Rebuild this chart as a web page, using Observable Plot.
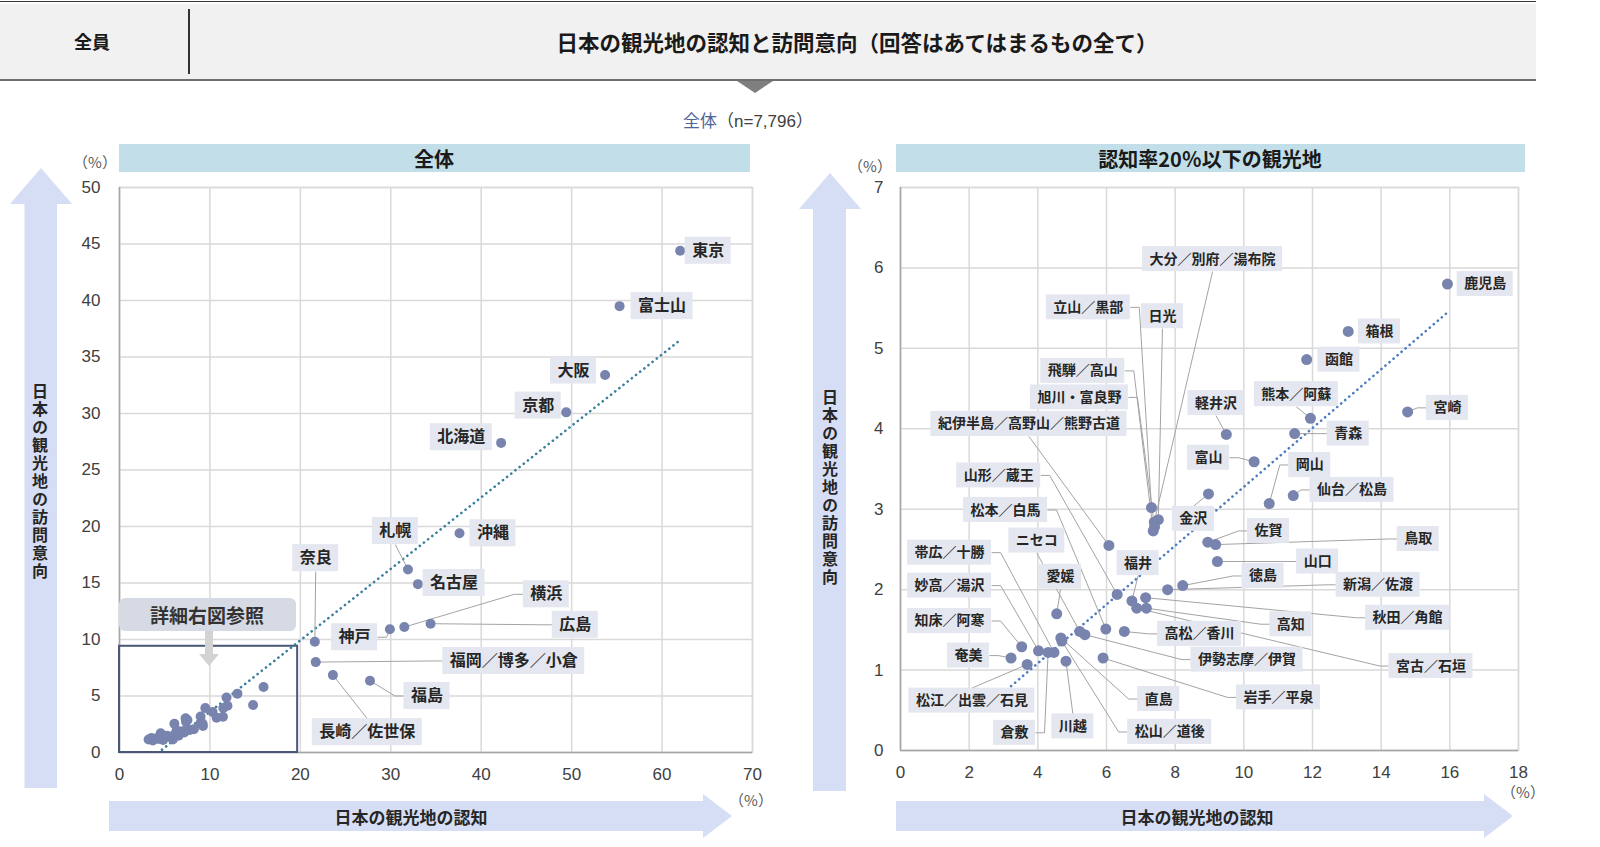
<!DOCTYPE html>
<html><head><meta charset="utf-8">
<script src="https://cdn.jsdelivr.net/npm/d3@7"></script>
<script src="https://cdn.jsdelivr.net/npm/@observablehq/plot@0.6"></script>
<style>
body{margin:0;background:#fff;width:1600px;height:847px;overflow:hidden;position:relative;font-family:"Noto Sans CJK JP",sans-serif;color:#262626;}
.abs{position:absolute;}
.c{position:absolute;transform:translate(-50%,-50%);white-space:nowrap;}
.plotwrap svg{position:absolute;}
</style></head><body>
<script>
// ---------- DATA ----------
const majorNames = ["東京","富士山","大阪","京都","北海道","沖縄","札幌","名古屋","横浜","広島","神戸","奈良","福岡／博多／小倉","長崎／佐世保","福島"];
const majorAware = [62.0,55.3,53.7,49.4,42.2,37.6,31.9,33.0,31.5,34.4,29.9,21.6,21.7,23.6,27.7];
const majorIntent = [44.4,39.5,33.4,30.1,27.4,19.4,16.2,14.9,11.1,11.4,10.9,9.8,8.0,6.85,6.35];

const minorNames = ["鹿児島","箱根","函館","宮崎","熊本／阿蘇","青森","軽井沢","富山","岡山","仙台／松島","金沢","佐賀","鳥取","山口","徳島","新潟／佐渡","立山／黒部","日光","大分／別府／湯布院","飛騨／高山","旭川・富良野","紀伊半島／高野山／熊野古道","山形／蔵王","福井","秋田／角館","宮古／石垣","高知","高松／香川","松本／白馬","岩手／平泉","伊勢志摩／伊賀","ニセコ","愛媛","直島","松山／道後","川越","倉敷","帯広／十勝","妙高／湯沢","知床／阿寒","奄美","松江／出雲／石見"];
const minorAware = [15.93,13.04,11.83,14.77,11.94,11.48,9.49,10.30,10.74,11.44,8.97,8.95,9.18,9.23,8.22,7.78,7.31,7.51,7.39,7.36,7.40,6.07,6.31,6.74,7.14,6.88,7.16,6.52,5.98,5.90,5.37,5.22,4.55,4.67,4.70,4.82,4.30,4.47,4.02,3.53,3.22,3.69];
const minorIntent = [5.80,5.21,4.86,4.21,4.13,3.94,3.93,3.59,3.07,3.17,3.19,2.59,2.56,2.35,2.05,2.00,3.02,2.87,2.84,2.73,2.78,2.55,1.94,1.86,1.90,1.77,1.77,1.48,1.51,1.15,1.44,1.48,1.70,1.40,1.36,1.11,1.22,1.22,1.24,1.29,1.15,1.07];

// dotted reference lines (end points)
const leftTrendX = [4.7, 62.0];
const leftTrendY = [0.25, 36.5];
const rightTrendX = [3.22, 15.97];
const rightTrendY = [0.80, 5.46];

// tick labels
const leftXTicks = [0,10,20,30,40,50,60,70];
const leftYTicks = [0,5,10,15,20,25,30,35,40,45,50];
const rightXTicks = [0,2,4,6,8,10,12,14,16,18];
const rightYTicks = [0,1,2,3,4,5,6,7];

// ---------- LABEL LAYOUT (data coordinates) ----------
const majorLabelX = [65.1,60.0,50.2,46.3,37.8,41.3,30.5,37.0,47.2,50.4,26.0,21.7,43.6,27.4,34.0];
const majorLabelY = [44.4,39.5,33.8,30.7,27.9,19.4,19.6,15.0,14.0,11.3,10.2,17.2,8.1,1.8,5.0];
const majorLeader = ["","","","","","","b","","l","l","r","b","l","t","l"];

const minorLabelX = [17.03,13.95,12.77,15.93,11.53,13.04,9.19,8.97,11.92,13.15,8.53,10.72,15.08,12.15,10.56,13.91,5.47,7.63,9.09,5.31,5.21,3.74,2.86,6.92,14.77,15.45,11.37,8.71,3.06,11.01,10.09,3.97,4.66,7.52,7.84,5.02,3.32,1.43,1.43,1.43,1.98,2.08];
const minorLabelY = [5.80,5.21,4.86,4.26,4.43,3.94,4.32,3.64,3.55,3.24,2.88,2.73,2.63,2.35,2.17,2.06,5.51,5.40,6.11,4.72,4.39,4.06,3.42,2.33,1.65,1.05,1.57,1.45,2.99,0.66,1.13,2.61,2.16,0.64,0.23,0.30,0.22,2.46,2.05,1.61,1.18,0.62];
const minorLeader = ["","","","l","b","l","b","r","l","l","t","l","l","l","l","l","r","b","b","r","r","b","r","b","l","l","l","l","r","l","l","b","b","l","l","t","r","r","r","r","r","t"];

// ---------- BUILD ----------
const majorPts = majorNames.map((n,i)=>({name:n,x:majorAware[i],y:majorIntent[i]}));
const minorPts = minorNames.map((n,i)=>({name:n,x:minorAware[i],y:minorIntent[i]}));
const majorLabels = majorPts.map((p,i)=>({...p,lx:majorLabelX[i],ly:majorLabelY[i],a:majorLeader[i]}));
const minorLabels = minorPts.map((p,i)=>({...p,lx:minorLabelX[i],ly:minorLabelY[i],a:minorLeader[i]}));

const DOT = "#7884ae";
const BOX = "#e4e7ef";
const TICKFONT = "'Liberation Sans', Arial, sans-serif";
const JP = "'Noto Sans CJK JP', sans-serif";

function makeChart(cfg){
  const {W,H,ml,mr,mt,mb,xDomain,yDomain,xTicks,yTicks,pts,labels,trendX,trendY,trendColor,fontPx,boxH,pad,dotR,extra,ytp,xtp} = cfg;
  const sx = Plot.scale({x:{domain:xDomain, range:[ml, W-mr]}});
  const sy = Plot.scale({y:{domain:yDomain, range:[H-mb, mt]}});
  const ctx = document.createElement("canvas").getContext("2d");
  ctx.font = `bold ${fontPx}px "Noto Sans CJK JP"`;
  const boxes = [], links = [];
  const stub = 9;
  for (const L of labels){
    const cx = sx.apply(L.lx), cy = sy.apply(L.ly);
    const w = ctx.measureText(L.name).width + 2*pad;
    boxes.push({x1:sx.invert(cx-w/2), x2:sx.invert(cx+w/2), y1:sy.invert(cy+boxH/2), y2:sy.invert(cy-boxH/2)});
    const px = sx.apply(L.x), py = sy.apply(L.y);
    let path = null;
    if (L.a==="l") path = [[cx-w/2,cy],[cx-w/2-stub,cy],[px,py]];
    else if (L.a==="r") path = [[cx+w/2,cy],[cx+w/2+stub,cy],[px,py]];
    else if (L.a==="t") path = [[cx,cy-boxH/2],[px,py]];
    else if (L.a==="b") path = [[cx,cy+boxH/2],[px,py]];
    if (path) for (let k=0;k<path.length-1;k++){
      links.push({x1:sx.invert(path[k][0]),y1:sy.invert(path[k][1]),x2:sx.invert(path[k+1][0]),y2:sy.invert(path[k+1][1])});
    }
  }
  const trend = trendX.map((x,i)=>({x,y:trendY[i]}));
  const fmt = d => String(d);
  return Plot.plot({
    width:W, height:H, marginLeft:ml, marginRight:mr, marginTop:mt, marginBottom:mb,
    x:{domain:xDomain}, y:{domain:yDomain},
    style:{background:"transparent", fontSize:"17px", fontFamily:TICKFONT, color:"#404040", overflow:"visible"},
    marks:[
      Plot.gridX(xTicks,{stroke:"#d9d9d9",strokeOpacity:1,strokeWidth:1.5}),
      Plot.gridY(yTicks,{stroke:"#d9d9d9",strokeOpacity:1,strokeWidth:1.5}),
      Plot.frame({stroke:"#d9d9d9",strokeWidth:1.5}),
      Plot.ruleX([xDomain[0]],{stroke:"#a6a6a6",strokeWidth:1.5}),
      Plot.ruleY([yDomain[0]],{stroke:"#a6a6a6",strokeWidth:1.5}),
      Plot.axisX(xTicks,{tickSize:0,tickPadding:xtp,tickFormat:fmt,fontSize:17,fontFamily:TICKFONT,fill:"#404040"}),
      Plot.axisY(yTicks,{tickSize:0,tickPadding:ytp,tickFormat:fmt,fontSize:17,fontFamily:TICKFONT,fill:"#404040"}),
      ...(extra||[]),
      Plot.line(trend,{x:"x",y:"y",stroke:trendColor,strokeWidth:2.6,strokeDasharray:"0.1 5.2",strokeLinecap:"round"}),
      Plot.link(links,{x1:"x1",y1:"y1",x2:"x2",y2:"y2",stroke:"#a3a3a3",strokeWidth:1}),
      Plot.dot(pts,{x:"x",y:"y",r:dotR,fill:DOT,stroke:"none"}),
      Plot.rect(boxes,{x1:"x1",x2:"x2",y1:"y1",y2:"y2",fill:BOX}),
      Plot.text(labels,{x:"lx",y:"ly",text:"name",fontSize:fontPx,fontWeight:"bold",fontFamily:JP,fill:"#262626"})
    ]
  });
}

// ---------- decorations (behind plots) ----------
const deco = `
<svg class="abs" style="left:0;top:0" width="1600" height="847">
  <polygon points="41,168 72,204 57,204 57,788 24.5,788 24.5,204 10,204" fill="#d6def5"/>
  <polygon points="830,173 861,209 846,209 846,791 813,791 813,209 799,209" fill="#d6def5"/>
  <polygon points="109,801 703,801 703,794 732,816 703,838 703,831 109,831" fill="#d6def5"/>
  <polygon points="896,801 1484,801 1484,794 1513,816 1484,838 1484,831 896,831" fill="#d6def5"/>
</svg>`;
document.body.insertAdjacentHTML("beforeend", deco);

// header
document.body.insertAdjacentHTML("beforeend", `
<div class="abs" style="left:0;top:1px;width:1536px;height:1px;background:#3a3a3a"></div>
<div class="abs" style="left:0;top:4px;width:1536px;height:75px;background:#f1f1f1"></div>
<div class="abs" style="left:0;top:79px;width:1536px;height:2px;background:#6e6e6e"></div>
<div class="abs" style="left:188px;top:9px;width:1.5px;height:65px;background:#333"></div>
<div class="c" style="left:92px;top:41px;font-size:18px;font-weight:bold;color:#1a1a1a">全員</div>
<div class="c" style="left:857px;top:41px;font-size:21.5px;font-weight:bold;color:#1a1a1a">日本の観光地の認知と訪問意向（回答はあてはまるもの全て）</div>
<div class="abs" style="left:737px;top:81px;width:0;height:0;border-left:18px solid transparent;border-right:18px solid transparent;border-top:12px solid #7f7f7f"></div>
<div class="c" style="left:748px;top:119px;font-size:17px;color:#404040"><span style="color:#4f6496">全体</span><span style="font-family:'Noto Sans CJK JP'">（</span><span style="font-family:'Liberation Sans',Arial">n=7,796</span>）</div>
`);

// plots
const wrap = document.createElement("div");
wrap.className = "plotwrap";
document.body.appendChild(wrap);

const leftPlot = makeChart({
  W:770,H:690,ml:119,mr:18,mt:47,mb:78,
  xDomain:[0,70], yDomain:[0,50], xTicks:leftXTicks, yTicks:leftYTicks,
  pts:[...majorPts,...minorPts], labels:majorLabels,
  trendX:leftTrendX, trendY:leftTrendY, trendColor:"#3a7f9e",
  fontPx:16, boxH:27, pad:7, dotR:5, ytp:19, xtp:15,
  extra:[Plot.rect([{x1:0,x2:19.7,y1:0,y2:9.4}],{x1:"x1",x2:"x2",y1:"y1",y2:"y2",fill:"none",stroke:"#4a5878",strokeWidth:2})]
});
leftPlot.style.left = "0px"; leftPlot.style.top = "140px";
wrap.appendChild(leftPlot);

const rightPlot = makeChart({
  W:760,H:690,ml:120,mr:22,mt:47,mb:80,
  xDomain:[0,18], yDomain:[0,7], xTicks:rightXTicks, yTicks:rightYTicks,
  pts:minorPts, labels:minorLabels,
  trendX:rightTrendX, trendY:rightTrendY, trendColor:"#4a7cc0",
  fontPx:14, boxH:25, pad:7, dotR:5.5, ytp:17, xtp:15
});
rightPlot.style.left = "780px"; rightPlot.style.top = "140px";
wrap.appendChild(rightPlot);

// overlays
document.body.insertAdjacentHTML("beforeend", `
<div class="abs" style="left:119px;top:144px;width:631px;height:28px;background:#c2dfe9"></div>
<div class="c" style="left:434px;top:158px;font-size:20px;font-weight:bold;color:#1a1a1a">全体</div>
<div class="abs" style="left:896px;top:144px;width:629px;height:28px;background:#c2dfe9"></div>
<div class="c" style="left:1210px;top:158px;font-size:20px;font-weight:bold;color:#1a1a1a">認知率20％以下の観光地</div>
<div class="c" style="left:95px;top:161px;font-size:15px;color:#595959">（%）</div>
<div class="c" style="left:870px;top:165px;font-size:15px;color:#595959">（%）</div>
<div class="c" style="left:751px;top:799px;font-size:15px;color:#595959">（%）</div>
<div class="c" style="left:1523px;top:791px;font-size:15px;color:#595959">（%）</div>
<div class="c" style="left:40px;top:482px;font-size:16px;font-weight:bold;color:#262626;writing-mode:vertical-rl;text-orientation:upright;letter-spacing:2px">日本の観光地の訪問意向</div>
<div class="c" style="left:830px;top:488px;font-size:16px;font-weight:bold;color:#262626;writing-mode:vertical-rl;text-orientation:upright;letter-spacing:2px">日本の観光地の訪問意向</div>
<div class="c" style="left:411px;top:816px;font-size:17px;font-weight:bold;color:#262626">日本の観光地の認知</div>
<div class="c" style="left:1197px;top:816px;font-size:17px;font-weight:bold;color:#262626">日本の観光地の認知</div>
<svg class="abs" style="left:0;top:0;pointer-events:none" width="1600" height="847">
  <polygon points="205,630 213,630 213,654 219,654 209,666 199,654 205,654" fill="#d3d3d3"/>
</svg>
<div class="abs" style="left:119px;top:598px;width:177px;height:33px;background:#d6dae4;border-radius:6px"></div>
<div class="c" style="left:207px;top:614px;font-size:19px;font-weight:bold;color:#333">詳細右図参照</div>
`);
</script>
</body></html>
